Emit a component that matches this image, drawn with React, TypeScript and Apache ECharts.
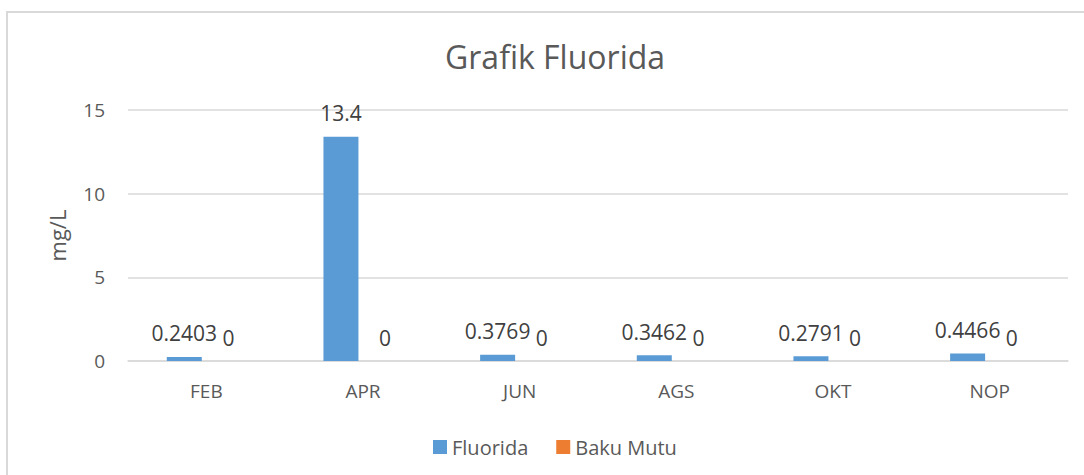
import React, { useEffect, useRef } from "react";
import * as echarts from "echarts";

const categories = ["FEB", "APR", "JUN", "AGS", "OKT", "NOP"];
const fluorida = [0.2403, 13.4, 0.3769, 0.3462, 0.2791, 0.4466];
const bakuMutu = [0, 0, 0, 0, 0, 0];
const yTicks = { min: 0, max: 15, interval: 5 };

const FONT = "'Open Sans', sans-serif";

export default function App() {
  const ref = useRef<HTMLDivElement>(null);
  useEffect(() => {
    if (!ref.current) return;
    const chart = echarts.init(ref.current, undefined, { renderer: "svg" });
    chart.setOption({
      animation: false,
      textStyle: { fontFamily: FONT },
      title: {
        text: "Grafik Fluorida",
        left: 440,
        top: 35,
        textStyle: { fontSize: 32, fontWeight: "normal", color: "#595959", fontFamily: FONT },
      },
      graphic: [
        {
          type: "rect",
          shape: { x: 7, y: 12, width: 1200, height: 600 },
          style: { fill: "none", stroke: "#d9d9d9", lineWidth: 2 },
          silent: true,
          z: -1,
        },
      ],
      legend: {
        left: 428,
        top: 432,
        itemWidth: 14,
        itemHeight: 14,
        itemGap: 28,
        icon: "rect",
        textStyle: { fontSize: 20, color: "#595959", fontFamily: FONT },
        data: ["Fluorida", "Baku Mutu"],
      },
      grid: { left: 128, right: 16, top: 110, bottom: 114, containLabel: false },
      xAxis: {
        type: "category",
        data: categories,
        axisLine: { show: true, lineStyle: { color: "#d9d9d9", width: 1.5 } },
        axisTick: { show: false },
        axisLabel: { fontSize: 19, color: "#595959", margin: 20, fontFamily: FONT },
      },
      yAxis: {
        type: "value",
        min: yTicks.min,
        max: yTicks.max,
        interval: yTicks.interval,
        name: "mg/L",
        nameLocation: "middle",
        nameGap: 60,
        nameTextStyle: { fontSize: 22, color: "#595959", fontFamily: FONT },
        axisLine: { show: false },
        axisTick: { show: false },
        axisLabel: { fontSize: 19, color: "#595959", margin: 23, fontFamily: FONT },
        splitLine: { lineStyle: { color: "#d9d9d9", width: 1.5 } },
      },
      series: [
        {
          name: "Fluorida",
          type: "bar",
          data: fluorida,
          barWidth: 35,
          barGap: "26%",
          itemStyle: { color: "#5B9BD5" },
          label: {
            show: true,
            position: "top",
            distance: 13,
            fontSize: 21,
            color: "#404040",
            fontFamily: FONT,
          },
        },
        {
          name: "Baku Mutu",
          type: "bar",
          data: bakuMutu,
          barWidth: 35,
          itemStyle: { color: "#ED7D31" },
          label: {
            show: true,
            position: "top",
            distance: 13,
            fontSize: 21,
            color: "#404040",
            fontFamily: FONT,
          },
        },
      ],
    });
    return () => chart.dispose();
  }, []);
  return (
    <div
      ref={ref}
      style={{ position: "fixed", left: 0, top: 0, width: 1084, height: 475, background: "#fff" }}
    />
  );
}
